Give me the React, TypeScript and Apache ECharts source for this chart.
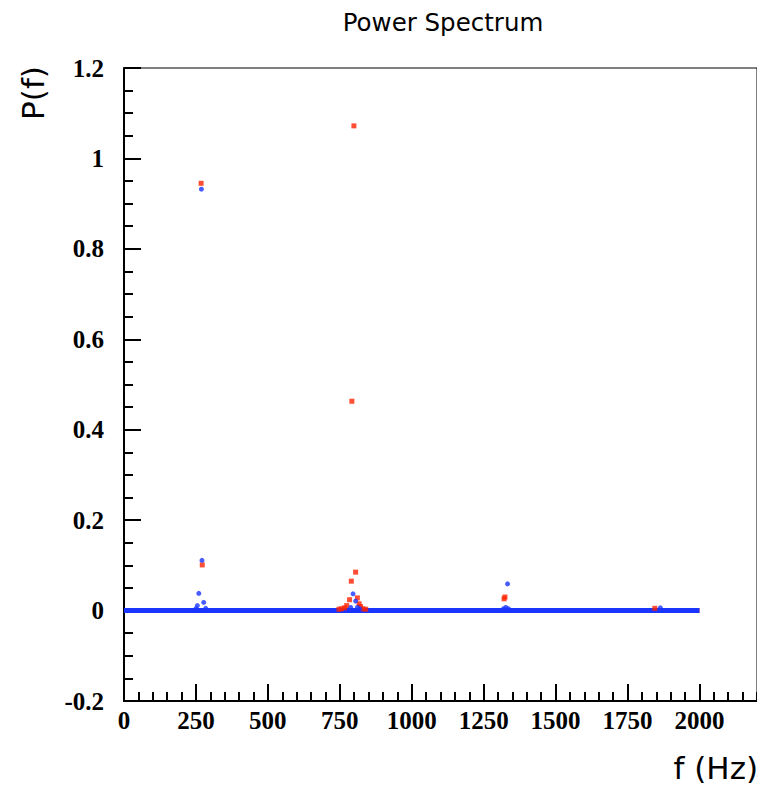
import React, { useEffect, useRef } from "react";
import * as echarts from "echarts";

// ---- texts ----
const chartTitle = "Power Spectrum";
const xAxisTitle = "f (Hz)";
const yAxisTitle = "P(f)";

// ---- axes ----
const xRange = [0, 2200];
const xMajorStep = 250;
const xMinorStep = 50;
const yRange = [-0.2, 1.2];
const yMajorStep = 0.2;
const yMinorStep = 0.05;

// ---- data: zero-level spectrum span (both channels) ----
const baselineFreq = [0, 2000];
const baselinePower = [0, 0];

// ---- data: red channel peaks ----
const redFreq = [268, 272, 792, 799, 805, 790, 784, 811, 817, 774, 766, 822, 830, 756, 747, 840, 1324, 1321, 1845];
const redPower = [0.945, 0.101, 0.463, 1.072, 0.085, 0.065, 0.024, 0.028, 0.015, 0.011, 0.006, 0.009, 0.004, 0.004, 0.003, 0.003, 0.03, 0.026, 0.005];

// ---- data: blue channel peaks ----
const blueFreq = [269, 271, 260, 255, 277, 284, 250, 796, 805, 788, 811, 819, 1333, 1327, 1336, 1319, 1864];
const bluePower = [0.932, 0.111, 0.038, 0.011, 0.018, 0.005, 0.004, 0.037, 0.021, 0.007, 0.007, 0.004, 0.059, 0.007, 0.004, 0.004, 0.006];

const RED = "#ff2200";
const BLUE = "#1a35ff";

const pairs = (xs: number[], ys: number[]) => xs.map((x, i) => [x, ys[i]]);

const labelFont = {
  fontFamily: "Liberation Serif",
  fontWeight: "bold" as const,
  fontSize: 25,
  color: "#000",
};

export default function App() {
  const ref = useRef<HTMLDivElement>(null);
  useEffect(() => {
    if (!ref.current) return;
    const chart = echarts.init(ref.current, undefined, { renderer: "svg" });
    chart.setOption({
      animation: false,
      backgroundColor: "#fff",
      grid: {
        left: 124,
        right: -3,
        top: 68,
        bottom: 85,
        show: true,
        borderColor: "#000",
        borderWidth: 1,
      },
      xAxis: [
        {
          type: "value",
          position: "bottom",
          min: xRange[0],
          max: xRange[1],
          interval: xMajorStep,
          axisLine: { show: true, onZero: false, lineStyle: { color: "#000", width: 2 } },
          axisTick: { show: true, inside: true, length: 17, lineStyle: { color: "#000", width: 2 } },
          axisLabel: { ...labelFont, margin: 7, showMaxLabel: false, formatter: (v: number) => String(v) },
          splitLine: { show: false },
        },
        {
          type: "value",
          position: "bottom",
          min: xRange[0],
          max: xRange[1],
          interval: xMinorStep,
          axisLine: { show: false, onZero: false },
          axisTick: { show: true, inside: true, length: 9, lineStyle: { color: "#000", width: 2 } },
          axisLabel: { show: false },
          splitLine: { show: false },
        },
      ],
      yAxis: [
        {
          type: "value",
          position: "left",
          min: yRange[0],
          max: yRange[1],
          interval: yMajorStep,
          axisLine: { show: true, onZero: false, lineStyle: { color: "#000", width: 2 } },
          axisTick: { show: true, inside: true, length: 17, lineStyle: { color: "#000", width: 2 } },
          axisLabel: { ...labelFont, margin: 20 },
          splitLine: { show: false },
        },
        {
          type: "value",
          position: "left",
          min: yRange[0],
          max: yRange[1],
          interval: yMinorStep,
          axisLine: { show: false, onZero: false },
          axisTick: { show: true, inside: true, length: 9, lineStyle: { color: "#000", width: 2 } },
          axisLabel: { show: false },
          splitLine: { show: false },
        },
      ],
      series: [
        {
          type: "line",
          xAxisIndex: 0,
          yAxisIndex: 0,
          data: pairs(baselineFreq, baselinePower),
          showSymbol: false,
          symbol: "none",
          lineStyle: { color: RED, width: 5 },
          z: 1,
        },
        {
          type: "line",
          xAxisIndex: 0,
          yAxisIndex: 0,
          data: pairs(baselineFreq, baselinePower),
          showSymbol: false,
          symbol: "none",
          lineStyle: { color: BLUE, width: 5 },
          z: 2,
        },
        {
          type: "scatter",
          xAxisIndex: 0,
          yAxisIndex: 0,
          data: pairs(redFreq, redPower),
          symbol: "rect",
          symbolSize: 5,
          itemStyle: { color: RED },
          z: 3,
        },
        {
          type: "scatter",
          xAxisIndex: 0,
          yAxisIndex: 0,
          data: pairs(blueFreq, bluePower),
          symbol: "circle",
          symbolSize: 5,
          itemStyle: { color: BLUE },
          z: 4,
        },
      ],
      graphic: [
        {
          type: "text",
          x: 443,
          y: 22,
          style: {
            text: chartTitle,
            fontFamily: "DejaVu Sans",
            fontSize: 24.5,
            fill: "#000",
            textAlign: "center",
            textVerticalAlign: "middle",
          },
        },
        {
          type: "text",
          x: 33,
          y: 93,
          rotation: Math.PI / 2,
          style: {
            text: yAxisTitle,
            fontFamily: "DejaVu Sans",
            fontSize: 31,
            fill: "#000",
            textAlign: "center",
            textVerticalAlign: "middle",
          },
        },
        {
          type: "text",
          x: 758,
          y: 768,
          style: {
            text: xAxisTitle,
            fontFamily: "DejaVu Sans",
            fontSize: 31,
            fill: "#000",
            textAlign: "right",
            textVerticalAlign: "middle",
          },
        },
      ],
    });
    return () => chart.dispose();
  }, []);
  return (
    <div
      ref={ref}
      style={{ position: "absolute", left: 0, top: 0, width: 757, height: 786, background: "#fff" }}
    />
  );
}
